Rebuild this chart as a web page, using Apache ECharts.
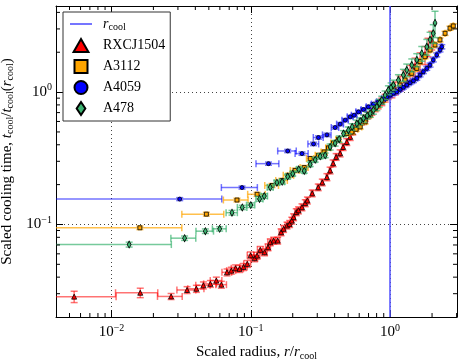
<!DOCTYPE html>
<html>
<head>
<meta charset="utf-8">
<script src="https://cdn.jsdelivr.net/npm/echarts@6/dist/echarts.min.js"></script>
<style>
html, body { margin: 0; padding: 0; background: #fff; }
#main { width: 463px; height: 364px; }
</style>
</head>
<body>
<div id="main"></div>
<script>
// scaled radius r/r_cool, scaled cooling time t/t(r_cool), and their 1-sigma errors
var rxcjRadius = [0.0054,0.0161,0.0268,0.0349,0.0407,0.0457,0.0513,0.0566,0.0615,0.0675,0.0725,0.0778,0.0831,0.0888,0.0944,0.0997,0.1065,0.111,0.117,0.1256,0.133,0.138,0.146,0.156,0.165,0.172,0.182,0.190,0.197,0.203,0.212,0.220,0.233,0.246,0.255,0.276,0.305,0.326,0.352,0.371,0.390,0.410,0.438,0.460,0.489,0.517,0.540,0.561,0.590,0.627,0.662,0.695,0.739,0.781,0.820,0.872,0.921,0.968,1.03,1.086,1.18,1.28,1.39,1.51,1.64,1.78,1.87,1.99];
var rxcjTime = [0.0285,0.0305,0.0286,0.0320,0.0327,0.0347,0.0356,0.0377,0.0351,0.0435,0.0448,0.0467,0.0462,0.0478,0.0504,0.0585,0.0556,0.0582,0.0643,0.0617,0.0673,0.0734,0.0756,0.0756,0.0874,0.0927,0.0983,0.101,0.107,0.1136,0.124,0.128,0.135,0.145,0.152,0.172,0.191,0.208,0.228,0.256,0.290,0.324,0.345,0.385,0.420,0.459,0.500,0.534,0.562,0.596,0.635,0.669,0.709,0.756,0.797,0.845,0.901,0.949,1.005,1.072,1.17,1.276,1.39,1.555,1.70,1.91,2.20,2.48];
var rxcjRadiusErr = 0.0054;
var rxcjTimeErr = [0.0028,0.0025,0.0015,0.0019,0.002,0.0021,0.0021,0.0023,0.0021,0.0026,0.0027,0.0028,0.0028,0.0029,0.003,0.0035,0.0033,0.0035,0.0039,0.0037,0.004,0.0044,0.0045,0.0045,0.0052,0.0056,0.0059,0.0061,0.0064,0.0068,0.0074,0.0077,0.0081,0.0087,0.0091,0.010,0.011,0.012,0.014,0.015,0.017,0.019,0.021,0.023,0.025,0.028,0.025,0.028,0.03,0.032,0.035,0.038,0.04,0.045,0.05,0.055,0.06,0.07,0.1,0.12,0.15,0.18,0.2,0.25,0.28,0.3,0.35,0.4];

var a3112Radius = [0.016,0.048,0.0796,0.111,0.142,0.167,0.187,0.208,0.242,0.267,0.306,0.336,0.361,0.392,0.426,0.489,0.531,0.570,0.610,0.662,0.719,0.781,0.824,0.895,0.947,1.0,1.056,1.18,1.28,1.43,1.554,1.64,1.78,1.935,2.10,2.28,2.48,2.69,2.84];
var a3112Time = [0.0944,0.1197,0.153,0.169,0.197,0.215,0.235,0.256,0.269,0.315,0.333,0.353,0.379,0.413,0.438,0.486,0.500,0.524,0.546,0.596,0.669,0.753,0.797,0.870,0.921,0.983,1.035,1.13,1.233,1.386,1.51,1.70,1.85,2.08,2.27,2.48,2.78,3.04,3.16];
var a3112RadiusErr = 0.016;
var a3112TimeErr = [0.003,0.004,0.005,0.006,0.007,0.008,0.009,0.01,0.01,0.011,0.012,0.013,0.014,0.015,0.016,0.017,0.018,0.019,0.02,0.021,0.023,0.026,0.028,0.03,0.032,0.034,0.036,0.04,0.045,0.05,0.055,0.06,0.065,0.07,0.08,0.09,0.1,0.11,0.12];

var a4059Radius = [0.0309,0.0865,0.134,0.184,0.233,0.282,0.306,0.352,0.403,0.438,0.476,0.517,0.552,0.593,0.644,0.699,0.759,0.824,0.895,0.947,1.0,1.056,1.117,1.18,1.245,1.317,1.39,1.47,1.554,1.64,1.733,1.833,1.935,2.04,2.16,2.28,2.35];
var a4059Time = [0.1555,0.190,0.288,0.359,0.343,0.406,0.454,0.475,0.540,0.573,0.614,0.650,0.669,0.709,0.739,0.774,0.811,0.845,0.896,0.921,0.949,0.978,1.005,1.048,1.086,1.13,1.176,1.218,1.27,1.345,1.425,1.51,1.60,1.75,1.91,2.08,2.20];
var a4059RadiusErr = [0.031,0.025,0.025,0.028,0.025,0.025,0.025,0.025,0.025,0.025,0.025,0.025,0.025,0.025,0.025,0.025,0.025,0.025,0.025,0.025,0.025,0.025,0.025,0.025,0.025,0.025,0.025,0.025,0.025,0.025,0.025,0.025,0.025,0.025,0.025,0.025,0.025];
var a4059TimeErr = [0.004,0.005,0.008,0.01,0.01,0.012,0.013,0.014,0.015,0.016,0.017,0.018,0.019,0.02,0.021,0.022,0.023,0.024,0.025,0.026,0.027,0.028,0.03,0.03,0.032,0.034,0.036,0.038,0.04,0.042,0.045,0.05,0.055,0.06,0.065,0.07,0.08];

var a478Radius = [0.0134,0.0335,0.0472,0.0598,0.0733,0.0869,0.100,0.1156,0.125,0.138,0.154,0.168,0.184,0.200,0.221,0.242,0.267,0.290,0.315,0.342,0.371,0.403,0.431,0.463,0.502,0.534,0.577,0.610,0.644,0.684,0.719,0.759,0.803,0.838,0.872,0.921,0.972,1.017,1.056,1.147,1.245,1.317,1.43,1.554,1.687,1.833,1.935,2.04,2.10];
var a478Time = [0.0705,0.0788,0.0890,0.0927,0.1227,0.1345,0.140,0.156,0.164,0.191,0.207,0.210,0.230,0.242,0.261,0.254,0.285,0.308,0.327,0.333,0.385,0.411,0.441,0.486,0.515,0.546,0.579,0.603,0.632,0.664,0.690,0.731,0.774,0.826,0.870,0.949,1.035,1.082,1.13,1.233,1.345,1.468,1.60,1.75,1.96,2.20,2.48,2.78,3.33];
var a478RadiusErr = [0.0135,0.0068,0.0068,0.0068,0.0068,0.0068,0.0068,0.0068,0.0068,0.0068,0.0068,0.0068,0.0068,0.0068,0.0068,0.0068,0.0068,0.0068,0.0068,0.0068,0.0068,0.0068,0.0068,0.0068,0.0068,0.0068,0.0068,0.0068,0.0068,0.0068,0.0068,0.0068,0.0068,0.0068,0.0068,0.0068,0.0068,0.0068,0.0068,0.0068,0.0068,0.0068,0.0068,0.0068,0.0068,0.0068,0.0068,0.0068,0.0068];
var a478TimeErr = [0.003,0.003,0.0035,0.0035,0.005,0.005,0.0055,0.006,0.0065,0.0075,0.008,0.008,0.009,0.0095,0.01,0.01,0.011,0.012,0.013,0.013,0.02,0.02,0.025,0.025,0.03,0.03,0.035,0.035,0.04,0.04,0.045,0.05,0.05,0.055,0.06,0.07,0.08,0.09,0.1,0.12,0.14,0.16,0.18,0.2,0.25,0.3,0.35,0.45,0.75];

var rCool = 1;
var xRange = [0.004, 3.02];
var yRange = [0.02, 4.47];
var xMinorTicks = [0.005,0.006,0.007,0.008,0.009,0.02,0.03,0.04,0.05,0.06,0.07,0.08,0.09,0.2,0.3,0.4,0.5,0.6,0.7,0.8,0.9,2,3];
var yMinorTicks = [0.03,0.04,0.05,0.06,0.07,0.08,0.09,0.2,0.3,0.4,0.5,0.6,0.7,0.8,0.9,2,3,4];

function build(r, t, re, te) {
	var out = [];
	for (var i = 0; i < r.length; i++) {
		out.push([r[i], t[i], typeof re === 'number' ? re : re[i], te[i]]);
	}
	return out;
}

var serif = 'Liberation Serif';

function errorBars(color) {
	return function (params, api) {
		var cs = params.coordSys;
		var x = api.value(0), y = api.value(1), dx = api.value(2), dy = api.value(3);
		var c = api.coord([x, y]);
		var left = cs.x, bottom = cs.y + cs.height;
		var xl = x - dx > 0 ? api.coord([x - dx, y])[0] : left - 20;
		var xr = api.coord([x + dx, y])[0];
		var yb = y - dy > 0 ? api.coord([x, y - dy])[1] : bottom + 20;
		var yt = api.coord([x, y + dy])[1];
		var cap = 3.5;
		var st = { stroke: color, lineWidth: 1.5 };
		var kids = [
			{ type: 'line', shape: { x1: Math.max(xl, left), y1: c[1], x2: xr, y2: c[1] }, style: st },
			{ type: 'line', shape: { x1: c[0], y1: yt, x2: c[0], y2: Math.min(yb, bottom) }, style: st },
			{ type: 'line', shape: { x1: xr, y1: c[1] - cap, x2: xr, y2: c[1] + cap }, style: st },
			{ type: 'line', shape: { x1: c[0] - cap, y1: yt, x2: c[0] + cap, y2: yt }, style: st }
		];
		if (xl >= left) kids.push({ type: 'line', shape: { x1: xl, y1: c[1] - cap, x2: xl, y2: c[1] + cap }, style: st });
		if (yb <= bottom) kids.push({ type: 'line', shape: { x1: c[0] - cap, y1: yb, x2: c[0] + cap, y2: yb }, style: st });
		return { type: 'group', children: kids };
	};
}

function minorX(params, api) {
	var cs = params.coordSys;
	var px = api.coord([api.value(0), 1])[0];
	var b = cs.y + cs.height, t = cs.y;
	var st = { stroke: '#000', lineWidth: 1 };
	return { type: 'group', children: [
		{ type: 'line', shape: { x1: px, y1: b, x2: px, y2: b - 4 }, style: st },
		{ type: 'line', shape: { x1: px, y1: t, x2: px, y2: t + 4 }, style: st }
	] };
}
function minorY(params, api) {
	var cs = params.coordSys;
	var py = api.coord([1, api.value(1)])[1];
	var l = cs.x, r = cs.x + cs.width;
	var st = { stroke: '#000', lineWidth: 1 };
	return { type: 'group', children: [
		{ type: 'line', shape: { x1: l, y1: py, x2: l + 4, y2: py }, style: st },
		{ type: 'line', shape: { x1: r, y1: py, x2: r - 4, y2: py }, style: st }
	] };
}

function powLabel(v) {
	var e = Math.log(v) / Math.LN10;
	var n = Math.round(e);
	if (Math.abs(e - n) > 1e-6) return '';
	return '{b|10}{s|' + (n < 0 ? '\u2212' + (-n) : n) + '}';
}
var labelRich = {
	b: { fontFamily: serif, fontSize: 15, color: '#000' },
	s: { fontFamily: serif, fontSize: 10, color: '#000', padding: [0, 0, 9, 0] }
};
var nameRich = {
	n: { fontFamily: serif, fontSize: 15, color: '#000' },
	i: { fontFamily: serif, fontSize: 15, fontStyle: 'italic', color: '#000' },
	c: { fontFamily: serif, fontSize: 10, color: '#000', padding: [7, 0, 0, 0] }
};

var frameLine = { show: true, lineStyle: { color: '#000', width: 1 } };
var majorTick = { show: true, inside: true, length: 7, lineStyle: { color: '#000' } };
var dotGrid = { show: true, lineStyle: { color: '#444', type: [1, 3], width: 1 } };

var sets = [
	{ name: 'RXCJ1504', data: build(rxcjRadius, rxcjTime, rxcjRadiusErr, rxcjTimeErr), color: '#ff0000', err: 'rgba(255,0,0,0.55)', symbol: 'triangle', size: 5, icon: 'path://M8,0L16,14L0,14Z' },
	{ name: 'A3112', data: build(a3112Radius, a3112Time, a3112RadiusErr, a3112TimeErr), color: '#ffa500', err: 'rgba(255,165,0,0.7)', symbol: 'rect', size: 4, icon: 'path://M0,0L10,0L10,10L0,10Z' },
	{ name: 'A4059', data: build(a4059Radius, a4059Time, a4059RadiusErr, a4059TimeErr), color: '#0000ff', err: 'rgba(0,0,255,0.55)', symbol: 'circle', size: 4, icon: 'circle' },
	{ name: 'A478', data: build(a478Radius, a478Time, a478RadiusErr, a478TimeErr), color: '#3cb371', err: 'rgba(60,179,113,0.7)', symbol: 'diamond', size: [4, 7], icon: 'path://M5,0L10,7.5L5,15L0,7.5Z' }
];

var series = [{
	name: 'r_cool',
	type: 'line',
	data: [],
	symbol: 'none',
	itemStyle: { color: '#3a3aff' },
	lineStyle: { color: '#3a3aff', width: 1.5 },
	markLine: {
		silent: true,
		symbol: 'none',
		label: { show: false },
		lineStyle: { color: '#5050ff', width: 1.5, type: 'solid' },
		data: [{ xAxis: rCool }]
	},
	z: 20
}];
sets.forEach(function (s, k) {
	series.push({
		type: 'custom',
		name: s.name + ' error',
		renderItem: errorBars(s.err),
		data: s.data,
		encode: { x: 0, y: 1 },
		silent: true,
		z: 3 + k * 2
	});
	series.push({
		type: 'scatter',
		name: s.name,
		data: s.data,
		symbol: s.symbol,
		symbolSize: s.size,
		itemStyle: { color: s.color, borderColor: '#000', borderWidth: 0.8, opacity: 1 },
		z: 4 + k * 2
	});
});
series.push({ type: 'custom', renderItem: minorX, data: xMinorTicks.map(function (v) { return [v, 1]; }), silent: true, z: 30 });
series.push({ type: 'custom', renderItem: minorY, data: yMinorTicks.map(function (v) { return [1, v]; }), silent: true, z: 30 });

var legendData = [{ name: 'r_cool', icon: 'path://M0,0L22,0L22,1.4L0,1.4Z' }];
sets.forEach(function (s) { legendData.push({ name: s.name, icon: s.icon }); });

var chart = echarts.init(document.getElementById('main'));
chart.setOption({
	animation: false,
	backgroundColor: '#fff',
	grid: { left: 56, right: 6, top: 6, bottom: 47, outerBoundsMode: 'none' },
	legend: {
		left: 63, top: 12,
		orient: 'vertical',
		selectedMode: false,
		backgroundColor: '#fff',
		borderColor: '#333',
		borderWidth: 1,
		padding: [5, 5, 5, 7],
		itemWidth: 22,
		itemHeight: 13,
		itemGap: 6,
		data: legendData,
		formatter: function (n) {
			return n === 'r_cool' ? '{i|r}{c|cool}' : '{n|' + n + '}';
		},
		textStyle: {
			rich: {
				n: { fontFamily: serif, fontSize: 14, color: '#000', padding: [0, 0, 0, 6] },
				i: { fontFamily: serif, fontSize: 14, fontStyle: 'italic', color: '#000', padding: [0, 0, 0, 6] },
				c: { fontFamily: serif, fontSize: 10, color: '#000', padding: [6, 0, 0, 0] }
			}
		},
		z: 50
	},
	xAxis: [{
		type: 'log', min: xRange[0], max: xRange[1],
		axisLine: frameLine, axisTick: majorTick, splitLine: dotGrid,
		axisLabel: { formatter: powLabel, margin: 6, rich: labelRich },
		name: '{n|Scaled radius, }{i|r}{n|/}{i|r}{c|cool}',
		nameLocation: 'middle', nameGap: 26,
		nameTextStyle: { rich: nameRich }
	}, {
		type: 'log', min: xRange[0], max: xRange[1], position: 'top',
		axisLine: frameLine, axisTick: majorTick, axisLabel: { show: false }, splitLine: { show: false }
	}],
	yAxis: [{
		type: 'log', min: yRange[0], max: yRange[1],
		axisLine: frameLine, axisTick: majorTick, splitLine: dotGrid,
		axisLabel: { formatter: powLabel, margin: 4, rich: labelRich },
		name: '{n|Scaled cooling time, }{i|t}{c|cool}{n|/}{i|t}{c|cool}{n|(}{i|r}{c|cool}{n|)}',
		nameLocation: 'middle', nameGap: 28,
		nameTextStyle: { rich: nameRich }
	}, {
		type: 'log', min: yRange[0], max: yRange[1], position: 'right',
		axisLine: frameLine, axisTick: majorTick, axisLabel: { show: false }, splitLine: { show: false }
	}],
	series: series
});
</script>
</body>
</html>
